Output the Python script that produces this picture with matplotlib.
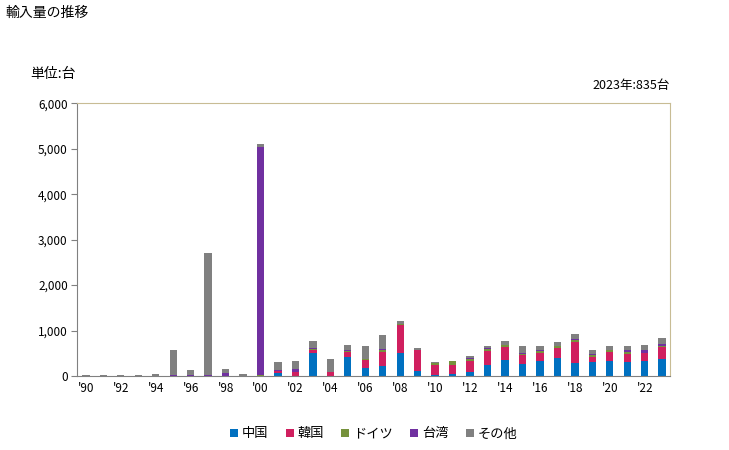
import numpy as np
import matplotlib.pyplot as plt

plt.rcParams['font.family'] = ['Noto Sans CJK JP', 'DejaVu Sans']

years = list(range(1990, 2024))
china = [0]*11 + [58, 0, 513, 0, 410, 183, 227, 498, 110, 22, 44, 95, 242, 352,
                  271, 330, 403, 286, 315, 330, 315, 330, 385]
korea = [0]*11 + [51, 95, 58, 95, 117, 169, 300, 623, 461, 220, 198, 234, 308, 286,
                  190, 176, 220, 461, 103, 198, 169, 176, 250]
germany = [0]*8 + [10, 0, 15] + [0, 0, 20, 0, 20, 22, 44, 22, 0, 51, 88, 37, 44, 44,
                                 29, 44, 44, 44, 44, 44, 44, 0, 20]
taiwan = [0]*5 + [20, 20, 25, 50, 0, 5020] + [22, 58, 22, 0, 29, 0, 22, 0, 0, 0, 0, 29,
                                              29, 0, 22, 22, 0, 29, 29, 0, 44, 66, 55]
other = [20, 20, 20, 20, 40, 550, 110, 2685, 90, 45, 75, 183, 177, 147, 279, 103, 286,
         315, 73, 51, 10, 0, 44, 37, 88, 147, 88, 81, 110, 81, 88, 88, 110, 125]

series = [("中国", china, "#0070C0"), ("韓国", korea, "#D01F5F"),
          ("ドイツ", germany, "#76923C"), ("台湾", taiwan, "#7030A0"),
          ("その他", other, "#808080")]

fig = plt.figure(figsize=(7.29, 4.5), dpi=100)
ax = fig.add_axes([0.1063, 0.1644, 0.9191 - 0.1063, 0.7704 - 0.1644])

x = np.arange(len(years))
bottom = np.zeros(len(years))
for name, vals, col in series:
    ax.bar(x, vals, 0.42, bottom=bottom, color=col, label=name, linewidth=0)
    bottom += np.array(vals)

ax.set_xlim(-0.48, len(years) - 0.55)
ax.set_ylim(0, 6000)
ax.set_yticks(range(0, 6001, 1000))
ax.set_yticklabels([f"{v:,}" for v in range(0, 6001, 1000)], fontsize=8.5)
ax.set_xticks(x[::2])
ax.set_xticklabels([f"'{str(y)[2:]}" for y in years[::2]], fontsize=8.5)
ax.tick_params(axis='x', length=0, pad=4)
ax.tick_params(axis='y', length=4, color='#808080', pad=3)

for s in ['top', 'right']:
    ax.spines[s].set_color('#C8BC94')
for s in ['left', 'bottom']:
    ax.spines[s].set_color('#808080')

fig.text(0.007, 0.972, "輸入量の推移", fontsize=10, va='center', ha='left')
fig.text(0.041, 0.835, "単位:台", fontsize=10, va='center', ha='left')
fig.text(0.919, 0.81, "2023年:835台", fontsize=9, va='center', ha='right')

ax.legend(loc='upper center', bbox_to_anchor=(0.5, -0.145), ncol=5, frameon=False,
          fontsize=9.5, handlelength=0.6, handleheight=0.6, handletextpad=0.3,
          columnspacing=1.3)

fig.savefig("out.png", dpi=100)
